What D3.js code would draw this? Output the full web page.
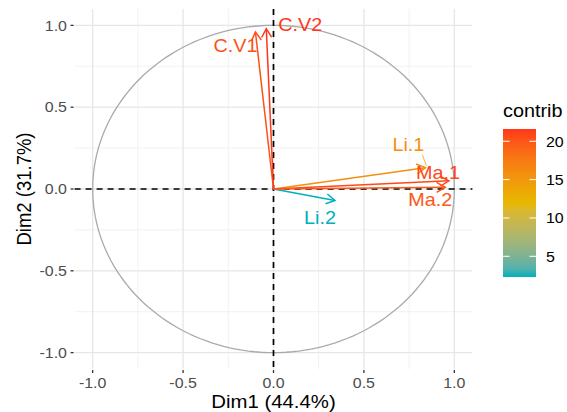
<!DOCTYPE html>
<html>
<head>
<meta charset="utf-8">
<script src="https://cdn.jsdelivr.net/npm/d3@7"></script>
<style>
  body { margin: 0; background: #fff; }
  text { font-family: "Liberation Sans", Arial, sans-serif; }
</style>
</head>
<body>
<div id="chart"></div>
<script>
// Variable coordinates on the first two dimensions
const varNames = ["C.V1", "C.V2", "Li.1", "Li.2", "Ma.1", "Ma.2"];
const dim1 = [-0.10, -0.04, 0.84, 0.34, 0.97, 0.95];
const dim2 = [0.96, 0.98, 0.13, -0.07, 0.05, 0.01];
const contrib = [20.3, 21.6, 15.8, 2.3, 20.8, 19.9];

const axisTicks = [-1.0, -0.5, 0.0, 0.5, 1.0];
const minorTicks = [-0.75, -0.25, 0.25, 0.75];
const legendTicks = [5, 10, 15, 20];
const gradientCols = ["#00B0BC", "#E7B800", "#FF361A"];

// label placement (pixel offsets from arrow tip, like ggrepel did)
const labelNudge = [[-20, 14], [34, -4], [-17, -23], [-15, 17], [-11, -8], [-15, 12]];
const labelSegment = [false, false, true, false, false, false];

const width = 567, height = 412;
const panel = { left: 74.6, right: 472.4, top: 9, bottom: 369 };
const stretch = 1.1; // the picture is a bit wider than tall

const svg = d3.select("#chart").append("svg")
  .attr("width", width).attr("height", height);

svg.append("rect").attr("width", width).attr("height", height).attr("fill", "#fff");

const x = d3.scaleLinear().domain([-1.1, 1.1]).range([panel.left, panel.right]);
const y = d3.scaleLinear().domain([-1.1, 1.1]).range([panel.bottom, panel.top]);

// stretched text helper
function addText(g, px, py, str, opts) {
  const t = g.append("text")
    .attr("transform", `translate(${px},${py}) scale(${stretch},1)`)
    .attr("text-anchor", opts.anchor || "middle")
    .attr("dominant-baseline", opts.baseline || "auto")
    .style("font-size", opts.size + "px")
    .attr("fill", opts.fill || "#000")
    .text(str);
  return t;
}

// grid
const grid = svg.append("g");
minorTicks.forEach((v) => {
  grid.append("line").attr("x1", x(v)).attr("x2", x(v)).attr("y1", panel.top).attr("y2", panel.bottom)
    .attr("stroke", "#ebebeb").attr("stroke-width", 0.7);
  grid.append("line").attr("y1", y(v)).attr("y2", y(v)).attr("x1", panel.left).attr("x2", panel.right)
    .attr("stroke", "#ebebeb").attr("stroke-width", 0.7);
});
axisTicks.forEach((v) => {
  grid.append("line").attr("x1", x(v)).attr("x2", x(v)).attr("y1", panel.top).attr("y2", panel.bottom)
    .attr("stroke", "#e6e6e6").attr("stroke-width", 1.3);
  grid.append("line").attr("y1", y(v)).attr("y2", y(v)).attr("x1", panel.left).attr("x2", panel.right)
    .attr("stroke", "#e6e6e6").attr("stroke-width", 1.3);
});

// correlation circle
const circle = d3.range(0, 361, 2).map((a) => [Math.cos(a * Math.PI / 180), Math.sin(a * Math.PI / 180)]);
svg.append("path")
  .attr("d", d3.line().x((d) => x(d[0])).y((d) => y(d[1]))(circle))
  .attr("fill", "none").attr("stroke", "#aaaaaa").attr("stroke-width", 1.3);

// dashed zero lines
svg.append("line").attr("x1", x(0)).attr("x2", x(0)).attr("y1", panel.top).attr("y2", panel.bottom)
  .attr("stroke", "#000").attr("stroke-width", 1.7).attr("stroke-dasharray", "6,5");
svg.append("line").attr("y1", y(0)).attr("y2", y(0)).attr("x1", panel.left).attr("x2", panel.right)
  .attr("stroke", "#000").attr("stroke-width", 1.7).attr("stroke-dasharray", "6,5");

// axes (ticks + labels)
const axes = svg.append("g");
axisTicks.forEach((v) => {
  const lab = v.toFixed(1);
  axes.append("line").attr("x1", x(v)).attr("x2", x(v)).attr("y1", panel.bottom + 1).attr("y2", panel.bottom + 4)
    .attr("stroke", "#333").attr("stroke-width", 1.3);
  addText(axes, x(v), 388, lab, { size: 14.5, fill: "#4d4d4d" });
  axes.append("line").attr("y1", y(v)).attr("y2", y(v)).attr("x1", panel.left - 4).attr("x2", panel.left - 1)
    .attr("stroke", "#333").attr("stroke-width", 1.3);
  addText(axes, 67, y(v), lab, { size: 14.5, fill: "#4d4d4d", anchor: "end", baseline: "central" });
});
addText(axes, x(0), 408, "Dim1 (44.4%)", { size: 18.5 });
svg.append("text")
  .attr("transform", `translate(31,${y(0)}) rotate(-90) scale(1,${stretch})`)
  .attr("text-anchor", "middle")
  .style("font-size", "18.5px")
  .text("Dim2 (31.7%)");

// colour scale
const cMin = d3.min(contrib), cMax = d3.max(contrib);
const color = d3.scaleLinear()
  .domain([cMin, (cMin + cMax) / 2, cMax])
  .range(gradientCols)
  .interpolate(d3.interpolateLab);

// arrows
const arrows = svg.append("g");
varNames.forEach((name, i) => {
  const x0 = x(0), y0 = y(0), x1 = x(dim1[i]), y1 = y(dim2[i]);
  const col = color(contrib[i]);
  arrows.append("line").attr("x1", x0).attr("y1", y0).attr("x2", x1).attr("y2", y1)
    .attr("stroke", col).attr("stroke-width", 1.5);
  const ang = Math.atan2(y1 - y0, x1 - x0);
  const len = 10, spread = Math.PI / 6;
  const a1 = [x1 - len * Math.cos(ang - spread), y1 - len * Math.sin(ang - spread)];
  const a2 = [x1 - len * Math.cos(ang + spread), y1 - len * Math.sin(ang + spread)];
  arrows.append("path")
    .attr("d", `M${a1[0]},${a1[1]}L${x1},${y1}L${a2[0]},${a2[1]}`)
    .attr("fill", "none").attr("stroke", col).attr("stroke-width", 1.5)
    .attr("stroke-linejoin", "miter");
});

// labels
const labels = svg.append("g");
varNames.forEach((name, i) => {
  const tx = x(dim1[i]), ty = y(dim2[i]);
  const lx = tx + labelNudge[i][0], ly = ty + labelNudge[i][1];
  const col = color(contrib[i]);
  if (labelSegment[i]) {
    labels.append("line")
      .attr("x1", lx + 14).attr("y1", ly + 10)
      .attr("x2", tx + 1).attr("y2", ty - 2)
      .attr("stroke", col).attr("stroke-width", 0.7);
  }
  addText(labels, lx, ly, name, { size: 18, fill: col, baseline: "central" });
});

// legend colour bar
const bar = { x: 503, w: 33, top: 129, bottom: 277 };
const ly = d3.scaleLinear().domain([cMin, cMax]).range([bar.bottom, bar.top]);
const defs = svg.append("defs");
const grad = defs.append("linearGradient").attr("id", "cbar")
  .attr("x1", 0).attr("y1", 1).attr("x2", 0).attr("y2", 0);
d3.range(0, 1.0001, 0.05).forEach((t) => {
  grad.append("stop").attr("offset", t).attr("stop-color", color(cMin + t * (cMax - cMin)));
});
const legend = svg.append("g");
addText(legend, bar.x, 117, "contrib", { size: 18, anchor: "start" });
legend.append("rect").attr("x", bar.x).attr("y", bar.top).attr("width", bar.w)
  .attr("height", bar.bottom - bar.top).attr("fill", "url(#cbar)");
legendTicks.forEach((v) => {
  const yy = ly(v);
  legend.append("line").attr("x1", bar.x).attr("x2", bar.x + bar.w / 5).attr("y1", yy).attr("y2", yy)
    .attr("stroke", "#fff").attr("stroke-width", 1);
  legend.append("line").attr("x1", bar.x + bar.w * 4 / 5).attr("x2", bar.x + bar.w).attr("y1", yy).attr("y2", yy)
    .attr("stroke", "#fff").attr("stroke-width", 1);
  addText(legend, 546, yy, String(v), { size: 14.5, anchor: "start", baseline: "central" });
});
</script>
</body>
</html>
